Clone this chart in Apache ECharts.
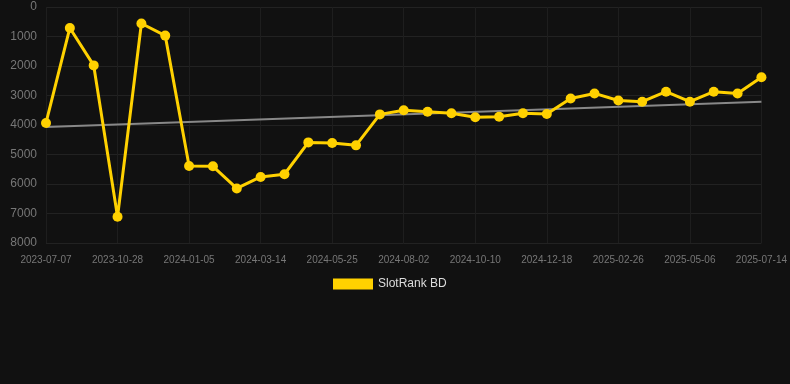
<!DOCTYPE html>
<html><head><meta charset="utf-8">
<script src="https://cdn.jsdelivr.net/npm/echarts@6/dist/echarts.min.js"></script>
<style>html,body{margin:0;padding:0;background:#111111;}#c{width:790px;height:384px;}</style>
</head><body><div id="c"></div>
<script>
const categories = ["2023-07-07","2023-08-14","2023-09-21","2023-10-28","2023-11-20","2023-12-13","2024-01-05","2024-01-28","2024-02-20","2024-03-14","2024-04-07","2024-05-01","2024-05-25","2024-06-17","2024-07-10","2024-08-02","2024-08-25","2024-09-17","2024-10-10","2024-11-02","2024-11-25","2024-12-18","2025-01-10","2025-02-02","2025-02-26","2025-03-21","2025-04-13","2025-05-06","2025-05-29","2025-06-21","2025-07-14"];
const rankValues = [3930,710,1980,7110,560,970,5390,5400,6150,5760,5670,4590,4610,4690,3640,3500,3550,3600,3740,3720,3600,3630,3100,2930,3170,3210,2870,3210,2870,2930,2380];
const trendStart = 4070;
const trendEnd = 3210;
const yTicks = [0,1000,2000,3000,4000,5000,6000,7000,8000];

const trendData = categories.map((c,i)=> i===0 ? trendStart : (i===categories.length-1 ? trendEnd : null));

const chart = echarts.init(document.getElementById('c'), null, {renderer:'canvas'});
chart.setOption({
  backgroundColor:'#111111',
  animation:false,
  grid:{left:46,right:28,top:7,bottom:141},
  legend:{
    data:['SlotRank BD'],
    top:273,
    left:328,
    icon:'rect',
    itemWidth:40,itemHeight:11,
    textStyle:{color:'#dddddd',fontSize:12,fontFamily:'Arial, Liberation Sans, sans-serif'}
  },
  xAxis:{
    type:'category',
    data:categories,
    boundaryGap:false,
    axisLine:{show:false},
    axisTick:{show:false},
    axisLabel:{color:'#777',fontSize:10,interval:2,margin:12,fontFamily:'Arial, Liberation Sans, sans-serif'},
    splitLine:{show:true,interval:2,lineStyle:{color:'#1e1e1e',width:1}}
  },
  yAxis:{
    type:'value',
    inverse:true,
    min:yTicks[0],max:yTicks[yTicks.length-1],interval:1000,
    axisLine:{show:false},
    axisTick:{show:false},
    axisLabel:{color:'#777',fontSize:12,margin:9,formatter:function(v){return String(v);},fontFamily:'Arial, Liberation Sans, sans-serif'},
    splitLine:{show:true,lineStyle:{color:'#222',width:1}}
  },
  series:[
    {
      name:'trend',
      type:'line',
      data:trendData,
      connectNulls:true,
      symbol:'none',
      lineStyle:{color:'#888',width:2},
      silent:true,
      z:1
    },
    {
      name:'SlotRank BD',
      type:'line',
      data:rankValues,
      symbol:'circle',
      symbolSize:10,
      itemStyle:{color:'#FFD100'},
      lineStyle:{color:'#FFD100',width:3},
      z:2
    }
  ]
});
</script></body></html>
